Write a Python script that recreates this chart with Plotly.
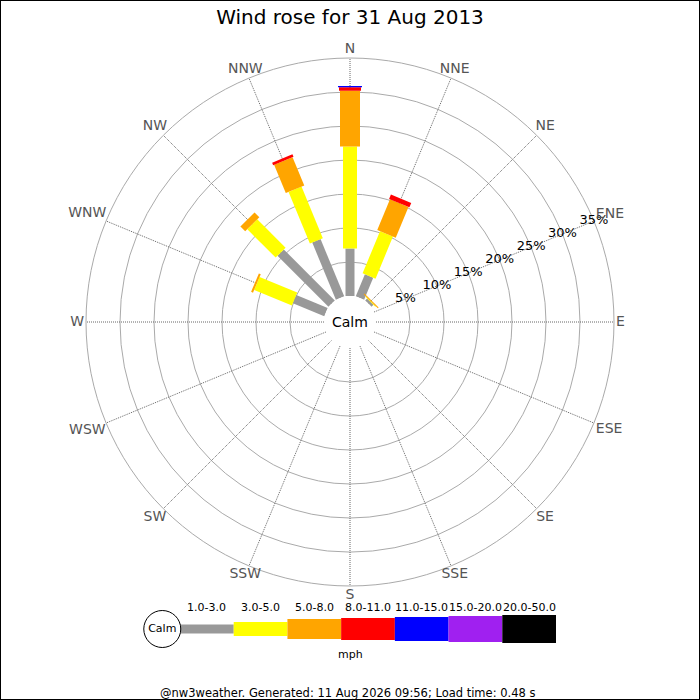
import math
import plotly.graph_objects as go

# wind rose for 31 Aug 2013, percent of time per direction and speed band
directions = ["N", "NNE", "NE", "ENE", "E", "ESE", "SE", "SSE",
              "S", "SSW", "SW", "WSW", "W", "WNW", "NW", "NNW"]
bands = ["1.0-3.0", "3.0-5.0", "5.0-8.0", "8.0-11.0", "11.0-15.0", "15.0-20.0", "20.0-50.0"]
colours = ["#999999", "#ffff00", "#ffa500", "#ff0000", "#0000ff", "#a020f0", "#000000"]
widths = [9, 14, 20, 22, 24, 26, 28]

speed_1_3 = [7.0, 3.5, 0.4, 0, 0, 0, 0, 0, 0, 0, 0, 0, 0, 5.0, 10.6, 9.1]
speed_3_5 = [15.0, 6.7, 0.1, 0, 0, 0, 0, 0, 0, 0, 0, 0, 0, 6.0, 5.9, 8.2]
speed_5_8 = [8.2, 4.9, 0.15, 0, 0, 0, 0, 0, 0, 0, 0, 0, 0, 0.3, 1.0, 4.5]
speed_8_11 = [0.5, 0.7, 0, 0, 0, 0, 0, 0, 0, 0, 0, 0, 0, 0, 0, 0.4]
speed_11_15 = [0.2, 0, 0, 0, 0, 0, 0, 0, 0, 0, 0, 0, 0, 0, 0, 0]
speed_15_20 = [0] * 16
speed_20_50 = [0] * 16
all_speeds = [speed_1_3, speed_3_5, speed_5_8, speed_8_11, speed_11_15, speed_15_20, speed_20_50]

ring_vals = [0, 5, 10, 15, 20, 25, 30, 35]
ring_labels = [str(v) + "%" for v in ring_vals[1:]]
label_dir = "ENE"
r_max = 35
r_axis_end = 40

font = "DejaVu Sans"

# pixel geometry of the rose: calm circle 26 px, 35% ring 264 px
hole_px, ring_px = 26, 264
px_per_unit = (ring_px - hole_px) / r_max

# compass names: nearest edge of each label sits ~266 px from the centre
char_w = {"N": 10.5, "E": 8.9, "S": 8.9, "W": 13.8}
label_edge_px = 266
half_h = 7
dir_label_r = []
for i, d in enumerate(directions):
    a = math.radians(i * 22.5)
    half_w = sum(char_w[c] for c in d) / 2
    sx, cy_ = abs(math.sin(a)), abs(math.cos(a))
    ext = min(half_w / sx if sx > 1e-6 else 1e9, half_h / cy_ if cy_ > 1e-6 else 1e9)
    dir_label_r.append((label_edge_px + ext - hole_px) / px_per_unit)

fig = go.Figure()

# dotted spokes, stopping at the outer ring
spoke_r, spoke_th = [], []
for d in directions:
    spoke_r += [0, r_max, None]
    spoke_th += [d, d, None]
fig.add_trace(go.Scatterpolar(r=spoke_r, theta=spoke_th, mode="lines",
                              line=dict(color="#666666", width=1, dash="1px,1px"),
                              hoverinfo="skip", showlegend=False))

# stacked bars drawn as thick radial strokes (constant width, like the original)
base = [0.0] * 16
for band, col, w, vals in zip(bands, colours, widths, all_speeds):
    r = []
    th = []
    for i, d in enumerate(directions):
        if vals[i] > 0:
            r += [base[i], base[i] + vals[i], None]
            th += [d, d, None]
            base[i] += vals[i]
    if r:
        fig.add_trace(go.Scatterpolar(r=r, theta=th, mode="lines", name=band,
                                      line=dict(color=col, width=w),
                                      hoverinfo="skip", showlegend=False))

# percentage labels sit on the ENE spoke, horizontal
fig.add_trace(go.Scatterpolar(r=ring_vals[1:], theta=[label_dir] * len(ring_labels),
                              mode="text", text=ring_labels, textposition="middle center",
                              textfont=dict(family=font, size=13, color="black"),
                              cliponaxis=False, hoverinfo="skip", showlegend=False))

# compass names
fig.add_trace(go.Scatterpolar(r=dir_label_r, theta=directions,
                              mode="text", text=directions, textposition="middle center",
                              textfont=dict(family=font, size=14, color="#555555"),
                              cliponaxis=False, hoverinfo="skip", showlegend=False))

# key along the bottom
for i, (band, col, w) in enumerate(zip(bands, colours, widths)):
    fig.add_trace(go.Scatter(x=[i, i + 1], y=[0, 0], mode="lines",
                             line=dict(color=col, width=w), xaxis="x", yaxis="y",
                             hoverinfo="skip", showlegend=False))
    fig.add_annotation(x=i + 0.5, y=(700 - 607) / 700, xref="x", yref="paper",
                       xanchor="center", yanchor="middle",
                       text=band, showarrow=False,
                       font=dict(family=font, size=11, color="black"))
fig.add_trace(go.Scatter(x=[-0.33], y=[0], mode="markers+text", text=["Calm"],
                         textfont=dict(family=font, size=11, color="black"),
                         marker=dict(size=37, color="white", line=dict(color="black", width=1)),
                         xaxis="x", yaxis="y", cliponaxis=False,
                         hoverinfo="skip", showlegend=False))

# polar box sized so that the 35% ring has a 264 px radius round (350, 322)
rad_px = hole_px + r_axis_end * px_per_unit
cx, cy = 350, 700 - 322

fig.update_layout(
    width=700, height=700,
    margin=dict(l=0, r=0, t=0, b=0),
    paper_bgcolor="white", plot_bgcolor="white",
    font=dict(family=font),
    title=dict(text="Wind rose for 31 Aug 2013", x=0.5, xanchor="center",
               y=1 - 17 / 700, yanchor="middle",
               font=dict(family=font, size=20, color="black")),
    polar=dict(
        domain=dict(x=[(cx - rad_px) / 700, (cx + rad_px) / 700],
                    y=[(cy - rad_px) / 700, (cy + rad_px) / 700]),
        hole=hole_px / rad_px,
        bgcolor="rgba(0,0,0,0)",
        radialaxis=dict(range=[0, r_axis_end], tickvals=ring_vals, showticklabels=False,
                        showline=False, ticks="", angle=22.5,
                        gridcolor="#aaaaaa", gridwidth=1),
        angularaxis=dict(type="category", categoryarray=directions,
                         direction="clockwise", rotation=90, showticklabels=False,
                         showline=False, showgrid=False, ticks=""),
    ),
    xaxis=dict(domain=[130 / 700, 556 / 700], range=[-0.931, 7], visible=False,
               fixedrange=True),
    yaxis=dict(domain=[41 / 700, 101 / 700], range=[-1, 1], visible=False,
               fixedrange=True),
)

fig.add_annotation(x=0.5, y=378 / 700, xref="paper", yref="paper", text="Calm",
                   xanchor="center", yanchor="middle",
                   showarrow=False, font=dict(family=font, size=14, color="black"))
fig.add_annotation(x=0.5, y=(700 - 654) / 700, xref="paper", yref="paper", text="mph",
                   xanchor="center", yanchor="middle",
                   showarrow=False, font=dict(family=font, size=11, color="black"))
fig.add_annotation(x=0.497, y=(700 - 693) / 700, xref="paper", yref="paper",
                   xanchor="center", yanchor="middle",
                   text="@nw3weather. Generated: 11 Aug 2026 09:56; Load time: 0.48 s",
                   showarrow=False, font=dict(family=font, size=11.5, color="black"))
fig.add_shape(type="rect", xref="paper", yref="paper", x0=0, y0=0, x1=1, y1=1,
              line=dict(color="black", width=2))

fig.write_html("out.html", config={"displayModeBar": False},
               post_script="document.body.style.margin='0';")
